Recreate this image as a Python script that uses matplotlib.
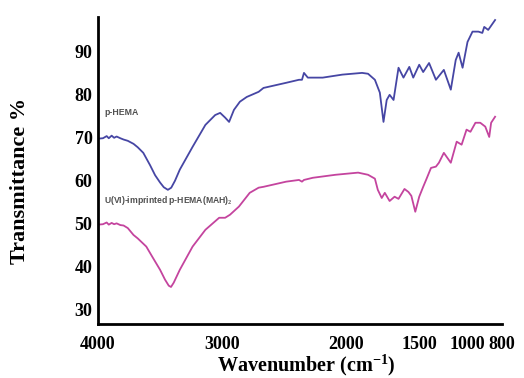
import numpy as np
import matplotlib
matplotlib.use("Agg")
import matplotlib.pyplot as plt

# ---------------------------------------------------------------- DATA
# p-HEMA (blue)
wn_hema = [4000, 3960, 3930, 3913, 3890, 3870, 3850, 3820, 3794, 3760, 3714, 3680, 3635,
           3580, 3540, 3500, 3470, 3437, 3410, 3380, 3341, 3238, 3135, 3056, 3016, 2976,
           2944, 2905, 2857, 2802, 2706, 2667, 2484, 2381, 2357, 2341, 2310, 2190, 2032,
           1892, 1851, 1804, 1770, 1745, 1723, 1703, 1676, 1642, 1608, 1568, 1541, 1500,
           1459, 1398, 1327, 1245, 1173, 1122, 1092, 1051, 1000, 971, 937, 914, 903, 880, 840]
t_hema = [69.8, 69.9, 70.4, 69.9, 70.5, 70.0, 70.3, 69.9, 69.6, 69.3, 68.6, 67.8, 66.5,
          63.6, 61.3, 59.6, 58.5, 57.9, 58.4, 60.0, 62.6, 67.9, 73.0, 75.3, 75.8, 74.7,
          73.7, 76.5, 78.4, 79.5, 80.7, 81.6, 82.8, 83.5, 83.5, 85.1, 84.0, 84.0, 84.7,
          85.1, 84.9, 83.5, 80.5, 73.7, 78.8, 80.0, 78.8, 86.3, 84.0, 86.5, 84.0, 87.0,
          85.3, 87.4, 83.5, 85.8, 81.2, 88.1, 89.8, 86.3, 92.3, 94.7, 94.7, 94.4, 95.8, 95.1, 97.4]

# U(VI)-imprinted p-HEMA(MAH)2 (magenta)
wn_imp = [4000, 3960, 3930, 3913, 3890, 3870, 3850, 3820, 3794, 3760, 3714, 3680, 3611,
          3560, 3500, 3460, 3430, 3412, 3390, 3341, 3238, 3135, 3024, 2976, 2937, 2865,
          2778, 2706, 2667, 2484, 2381, 2357, 2341, 2270, 2087, 1919, 1851, 1804, 1784,
          1757, 1736, 1703, 1669, 1642, 1601, 1574, 1554, 1527, 1500, 1459, 1429, 1378,
          1327, 1296, 1245, 1173, 1112, 1061, 1010, 983, 954, 926, 897, 874, 863, 840]
t_imp = [49.8, 49.9, 50.3, 49.8, 50.2, 49.9, 50.1, 49.7, 49.6, 49.0, 47.4, 46.6, 44.7,
         42.2, 39.3, 37.0, 35.6, 35.3, 36.3, 39.3, 44.7, 48.6, 51.4, 51.4, 52.1, 54.0,
         57.2, 58.4, 58.6, 59.8, 60.2, 59.8, 60.2, 60.7, 61.4, 61.9, 61.4, 60.5, 57.9,
         56.0, 57.2, 55.3, 56.3, 55.8, 58.1, 57.4, 56.5, 52.8, 56.3, 58.6, 60.2, 63.0,
         63.3, 64.2, 66.5, 64.2, 69.1, 68.4, 71.9, 71.4, 73.5, 73.5, 72.6, 70.2, 73.5, 74.9]

x_ticks = [4000, 3000, 2000, 1500, 1000, 800]
y_ticks = [30, 40, 50, 60, 70, 80, 90]

# ---------------------------------------------------------------- X SCALE (piecewise, as in the figure)
bp_wn = np.array([800, 1000, 1500, 2000, 3000, 4000], dtype=float)
bp_pos = np.array([0, 35, 84, 158, 284, 410], dtype=float)


def fwd(w):
    return np.interp(w, bp_wn, bp_pos, left=-1e3, right=1e3)


def inv(p):
    return np.interp(p, bp_pos, bp_wn)


# ---------------------------------------------------------------- PLOT
plt.rcParams['mathtext.fontset'] = 'custom'
plt.rcParams['mathtext.rm'] = 'Liberation Serif:bold'
plt.rcParams['mathtext.bf'] = 'Liberation Serif:bold'

fig = plt.figure(figsize=(5.24, 3.78), dpi=100)
ax = fig.add_axes([0.187, 0.143, 0.771, 0.812])
ax.set_xscale('function', functions=(fwd, inv))

ax.plot(wn_hema, t_hema, color='#4646a4', lw=1.3)
ax.plot(wn_imp, t_imp, color='#c4449e', lw=1.3)

ax.set_xlim(4000, 840)
ax.set_ylim(26.7, 98.1)
ax.set_xticks(x_ticks)
ax.set_xticklabels([str(v) for v in x_ticks])
ax.set_yticks(y_ticks)
ax.minorticks_off()
ax.tick_params(axis='x', length=0, pad=9)
ax.tick_params(axis='y', length=0, pad=4)
for lab in ax.get_xticklabels() + ax.get_yticklabels():
    lab.set_fontfamily('Liberation Serif')
    lab.set_fontweight('bold')
    lab.set_fontsize(13)

for s in ['top', 'right']:
    ax.spines[s].set_visible(False)
for s in ['left', 'bottom']:
    ax.spines[s].set_linewidth(2)

# axis titles placed as in the figure
fig.text(0.585, 0.034, 'Wavenumber (cm$^{-1}$)', fontfamily='Liberation Serif',
         fontweight='bold', fontsize=14.5, ha='center', va='center')
fig.text(0.038, 0.522, 'Transmittance %', fontfamily='Liberation Serif',
         fontweight='bold', fontsize=16, ha='center', va='center', rotation=90)

ax.text(3950, 76.0, 'p-HEMA', fontsize=6.3, fontweight='bold', color='#505050',
        family='Liberation Sans', va='center')
ax.text(3955, 55.5, 'U(VI)-imprinted p-HEMA(MAH)$_2$', fontsize=6.2, fontweight='bold',
        color='#505050', family='Liberation Sans', va='center')

plt.savefig('out.png', dpi=100)
